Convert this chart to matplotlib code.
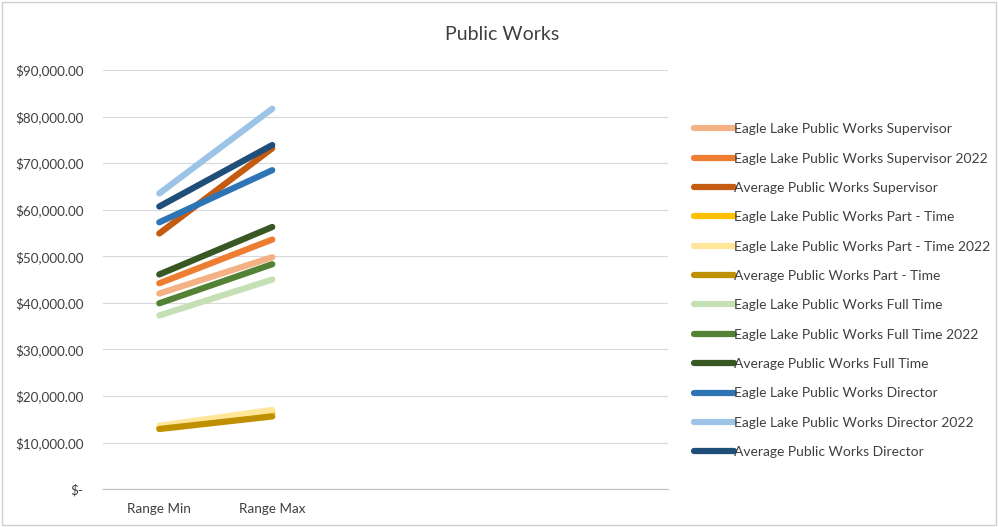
import numpy as np
import matplotlib
matplotlib.use("Agg")
import matplotlib.pyplot as plt
from matplotlib.ticker import FuncFormatter

plt.rcParams['font.family'] = ['Lato', 'DejaVu Sans']

# categories (only first two hold data, the rest are empty slots in the sheet)
categories = ["Range Min", "Range Max", "", "", ""]

series_names = [
    "Eagle Lake Public Works Supervisor",
    "Eagle Lake Public Works Supervisor 2022",
    "Average Public Works Supervisor",
    "Eagle Lake Public Works Part - Time",
    "Eagle Lake Public Works Part - Time 2022",
    "Average Public Works Part - Time",
    "Eagle Lake Public Works Full Time",
    "Eagle Lake Public Works Full Time 2022",
    "Average Public Works Full Time",
    "Eagle Lake Public Works Director",
    "Eagle Lake Public Works Director 2022",
    "Average Public Works Director",
]

range_min = [42000, 44200, 54900, 13200, 13600, 12900, 37300, 39900, 46100, 57300, 63500, 60700]
range_max = [49800, 53600, 73200, 16300, 17000, 15600, 45000, 48300, 56300, 68500, 81700, 73900]

colors = ["#F4B183", "#ED7D31", "#C55A11",
          "#FFC000", "#FFE699", "#BF9000",
          "#C5E0B4", "#548235", "#385723",
          "#2E75B6", "#9DC3E6", "#1F4E79"]

fig = plt.figure(figsize=(9.98, 5.27), dpi=100)
ax = fig.add_axes([0.103, 0.072, 0.566, 0.795])

x = np.arange(len(categories))
for name, lo, hi, c in zip(series_names, range_min, range_max, colors):
    ax.plot(x[:2], [lo, hi], color=c, lw=4.5, solid_capstyle='round', label=name)

ax.set_xlim(-0.5, len(categories) - 0.5)
ax.set_ylim(0, 90000)
ax.set_yticks(np.arange(0, 90001, 10000))

def money(v, pos):
    if v == 0:
        return "$-"
    return "${:,.2f}".format(v)

ax.yaxis.set_major_formatter(FuncFormatter(money))
ax.set_xticks(x[:2])
ax.set_xticklabels(categories[:2])
ax.tick_params(axis='both', length=0, labelsize=9.7, colors='#404040', pad=14)
ax.tick_params(axis='x', pad=10)
ax.grid(axis='y', color='#D9D9D9', lw=0.8)
ax.set_axisbelow(True)
for s in ['top', 'right', 'left']:
    ax.spines[s].set_visible(False)
ax.spines['bottom'].set_color('#BFBFBF')

fig.text(0.503, 0.935, "Public Works", ha='center', va='center', fontsize=14, color='#404040')

fig.legend(loc='upper left', bbox_to_anchor=(0.683, 0.79), frameon=False,
           fontsize=10, handlelength=2.9, handletextpad=0.0, labelspacing=1.25,
           labelcolor='#404040')

# chart border
fig.patches.append(plt.Rectangle((0.002, 0.004), 0.996, 0.992, transform=fig.transFigure,
                                 fill=False, edgecolor='#D0D0D0', lw=1))

fig.savefig("out.png", dpi=100)
